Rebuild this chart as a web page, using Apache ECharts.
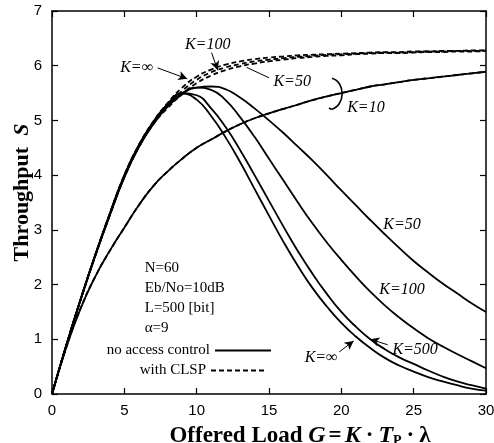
<!DOCTYPE html>
<html><head><meta charset="utf-8">
<script src="https://cdn.jsdelivr.net/npm/echarts@6/dist/echarts.min.js"></script>
<style>html,body{margin:0;padding:0;background:#fff}#c{width:494px;height:443px}</style>
</head><body><div id="c"></div>
<script>
// Offered load G (x values shared by all curves)
const G = [0,1,2,3,4,5,6,7,8,9,10,11,12,13,14,15,16,17,18,19,20,21,22,23,24,25,26,27,28,29,30];
// Throughput S, no access control
const sInfNoCtl = [0,0.9,1.75,2.55,3.3,4.0,4.55,4.97,5.3,5.49,5.38,5.08,4.69,4.24,3.75,3.26,2.78,2.34,1.94,1.6,1.3,1.05,0.84,0.66,0.52,0.41,0.31,0.23,0.16,0.1,0.06];
const s500NoCtl = [0,0.9,1.75,2.55,3.3,3.99,4.54,4.97,5.3,5.5,5.46,5.22,4.88,4.46,4.0,3.53,3.06,2.61,2.2,1.83,1.5,1.23,1.0,0.82,0.67,0.55,0.43,0.32,0.23,0.16,0.1];
const s100NoCtl = [0,0.9,1.74,2.54,3.28,3.97,4.52,4.95,5.27,5.5,5.6,5.56,5.37,5.06,4.7,4.3,3.9,3.5,3.12,2.77,2.45,2.15,1.87,1.62,1.4,1.2,1.02,0.87,0.73,0.6,0.47];
const s50NoCtl = [0,0.9,1.74,2.53,3.27,3.96,4.51,4.93,5.25,5.48,5.6,5.62,5.57,5.42,5.22,5.0,4.77,4.52,4.27,4.0,3.72,3.45,3.18,2.92,2.67,2.43,2.22,2.02,1.84,1.66,1.5];
const s10NoCtl = [0,0.86,1.58,2.15,2.62,3.04,3.45,3.8,4.07,4.3,4.5,4.65,4.8,4.93,5.04,5.13,5.21,5.29,5.37,5.44,5.5,5.56,5.62,5.66,5.7,5.74,5.77,5.8,5.83,5.86,5.89];
// Throughput S, with CLSP
const sInfClsp = [0,0.9,1.75,2.55,3.3,4.0,4.55,4.98,5.32,5.6,5.8,5.93,6.02,6.08,6.12,6.15,6.17,6.19,6.2,6.21,6.22,6.23,6.24,6.25,6.25,6.26,6.26,6.27,6.27,6.28,6.28];
const s100Clsp = [0,0.9,1.74,2.54,3.28,3.97,4.52,4.95,5.27,5.54,5.74,5.88,5.97,6.03,6.08,6.11,6.14,6.16,6.18,6.2,6.21,6.22,6.23,6.24,6.24,6.25,6.26,6.26,6.27,6.27,6.28];
const s50Clsp = [0,0.9,1.74,2.53,3.27,3.96,4.51,4.93,5.23,5.48,5.68,5.82,5.92,5.99,6.04,6.08,6.11,6.14,6.16,6.18,6.19,6.21,6.22,6.23,6.23,6.24,6.25,6.25,6.26,6.26,6.27];
const s10Clsp = [0,0.86,1.58,2.15,2.62,3.04,3.45,3.8,4.07,4.3,4.5,4.65,4.8,4.93,5.04,5.13,5.21,5.29,5.37,5.44,5.5,5.56,5.62,5.66,5.7,5.74,5.77,5.8,5.83,5.86,5.89];
// Tick labels
const xTicks = [0,5,10,15,20,25,30];
const yTicks = [0,1,2,3,4,5,6,7];
// Text annotations
const paramLines = ['N=60','Eb/No=10dB','L=500 [bit]','\u03b1=9'];
const curveLabels = [
  {t:'K=100', x:10.76, y:6.38},
  {t:'K=\u221e', x:5.85, y:5.96},
  {t:'K=50', x:16.6, y:5.70},
  {t:'K=10', x:21.7, y:5.23},
  {t:'K=50', x:24.2, y:3.09},
  {t:'K=100', x:24.2, y:1.90},
  {t:'K=500', x:25.1, y:0.80},
  {t:'K=\u221e', x:18.6, y:0.66}
];
const arrows = [
  {from:[11.03,6.24], to:[11.45,5.92], head:true},
  {from:[7.3,5.96], to:[9.35,5.76], head:true},
  {from:[15.0,5.78], to:[13.45,5.97], head:false},
  {from:[23.2,0.9], to:[22.0,1.0], head:true},
  {from:[19.86,0.77], to:[20.85,0.97], head:true}
];

const NAME_SOLID = 'no access control', NAME_DASH = 'with CLSP';
const pairs = a => G.map((g,i)=>[g,a[i]]);
const chart = echarts.init(document.getElementById('c'));
function mk(name, arr, dashed){
  return {type:'line', name, data:pairs(arr), symbol:'none', smooth:0.5,
    lineStyle:{color:'#000', width:1.8, type: dashed ? [5,3] : 'solid'}, itemStyle:{color:'#000'},
    z: dashed ? 3 : 2, silent:true, animation:false};
}
const series = [
  mk(NAME_SOLID, sInfNoCtl,false), mk(NAME_SOLID, s500NoCtl,false), mk(NAME_SOLID, s100NoCtl,false),
  mk(NAME_SOLID, s50NoCtl,false), mk(NAME_SOLID, s10NoCtl,false),
  mk(NAME_DASH, sInfClsp,true), mk(NAME_DASH, s100Clsp,true), mk(NAME_DASH, s50Clsp,true), mk(NAME_DASH, s10Clsp,true)
];
series[0].markLine = {
  silent:true, animation:false, symbolSize:[7,9],
  lineStyle:{color:'#000', width:1, type:'solid'}, label:{show:false},
  data: arrows.map(a=>[{coord:a.from, symbol:'none'},{coord:a.to, symbol: a.head?'arrow':'none'}])
};
const axisCommon = {type:'value', splitLine:{show:false}, nameMoveOverlap:false,
  axisLine:{show:true, onZero:false, lineStyle:{color:'#000', width:1.5}},
  axisTick:{show:true, inside:true, length:6, lineStyle:{color:'#000', width:1.2}}};
const tickFont = {fontFamily:'Liberation Sans', fontSize:15, color:'#000'};
const legendCommon = {orient:'horizontal', align:'right', itemWidth:56, itemHeight:12, selectedMode:false, padding:0,
  itemStyle:{opacity:0, borderWidth:0},
  textStyle:{fontFamily:'Liberation Serif', fontSize:15, color:'#000'}};
const bold = {fontFamily:'Liberation Serif', fontWeight:'bold', fontSize:23, color:'#000'};
const boldIt = {fontFamily:'Liberation Serif', fontWeight:'bold', fontStyle:'italic', fontSize:24, color:'#000'};
chart.setOption({
  animation:false,
  backgroundColor:'#fff',
  grid:{left:52, right:8, top:11, bottom:49, containLabel:false, outerBoundsMode:'none'},
  xAxis:[
    Object.assign({}, axisCommon, {position:'bottom', min:xTicks[0], max:xTicks[xTicks.length-1], interval:5,
      axisLabel:Object.assign({margin:9}, tickFont),
      name:'{b|Offered Load }{i|G}{e|=}{i|K}{d|\u00b7}{i|T}{s|P}{d|\u00b7}{b|\u03bb}',
      nameLocation:'middle', nameGap:30,
      nameTextStyle:{padding:[0,0,0,62], rich:{
        b:bold, i:boldIt,
        e:Object.assign({}, bold, {padding:[0,3]}),
        d:Object.assign({}, bold, {padding:[0,5]}),
        s:{fontFamily:'Liberation Serif', fontWeight:'bold', fontSize:14, color:'#000', padding:[10,0,0,0]}
      }}}),
    Object.assign({}, axisCommon, {position:'top', min:0, max:30, interval:5, axisLabel:{show:false}})
  ],
  yAxis:[
    Object.assign({}, axisCommon, {position:'left', min:yTicks[0], max:yTicks[yTicks.length-1], interval:1,
      axisLabel:Object.assign({margin:10}, tickFont),
      name:'{b|Throughput  }{i|S}', nameLocation:'middle', nameGap:19, nameRotate:90,
      nameTextStyle:{padding:[0,0,0,20], rich:{b:Object.assign({}, bold, {fontSize:22}), i:Object.assign({}, boldIt, {fontSize:22})}}}),
    Object.assign({}, axisCommon, {position:'right', min:0, max:7, interval:1, axisLabel:{show:false}})
  ],
  legend:[
    Object.assign({}, legendCommon, {data:[NAME_SOLID], right:222, top:343}),
    Object.assign({}, legendCommon, {data:[NAME_DASH], right:226, top:363})
  ],
  series
});

function px(x,y){ return chart.convertToPixel({gridIndex:0}, [x,y]); }
const graphics = [];
curveLabels.forEach(l=>{
  const p = px(l.x,l.y);
  graphics.push({type:'text', x:p[0], y:p[1], silent:true, z:10,
    style:{text:l.t, font:'italic 16px "Liberation Serif"', fill:'#000', align:'center', verticalAlign:'middle'}});
});
paramLines.forEach((t,i)=>{
  const p = px(6.41, 2.30 - i*0.362);
  graphics.push({type:'text', x:p[0], y:p[1], silent:true, z:10,
    style:{text:t, font:'15px "Liberation Serif"', fill:'#000', align:'left', verticalAlign:'middle'}});
});
// bracket grouping the K=10 curves
const bt = px(19.35,5.77), bb = px(19.3,5.2), bc1 = px(20.3,5.7), bc2 = px(20.3,5.27), bh = px(19.15,5.23);
graphics.push({type:'bezierCurve', silent:true, z:10,
  shape:{x1:bt[0], y1:bt[1], cpx1:bc1[0], cpy1:bc1[1], cpx2:bc2[0], cpy2:bc2[1], x2:bb[0], y2:bb[1]},
  style:{stroke:'#000', lineWidth:1.6, fill:null}});
graphics.push({type:'line', silent:true, z:10, shape:{x1:bb[0], y1:bb[1], x2:bh[0], y2:bh[1]},
  style:{stroke:'#000', lineWidth:1.6}});
chart.setOption({graphic:graphics});
</script>
</body></html>
